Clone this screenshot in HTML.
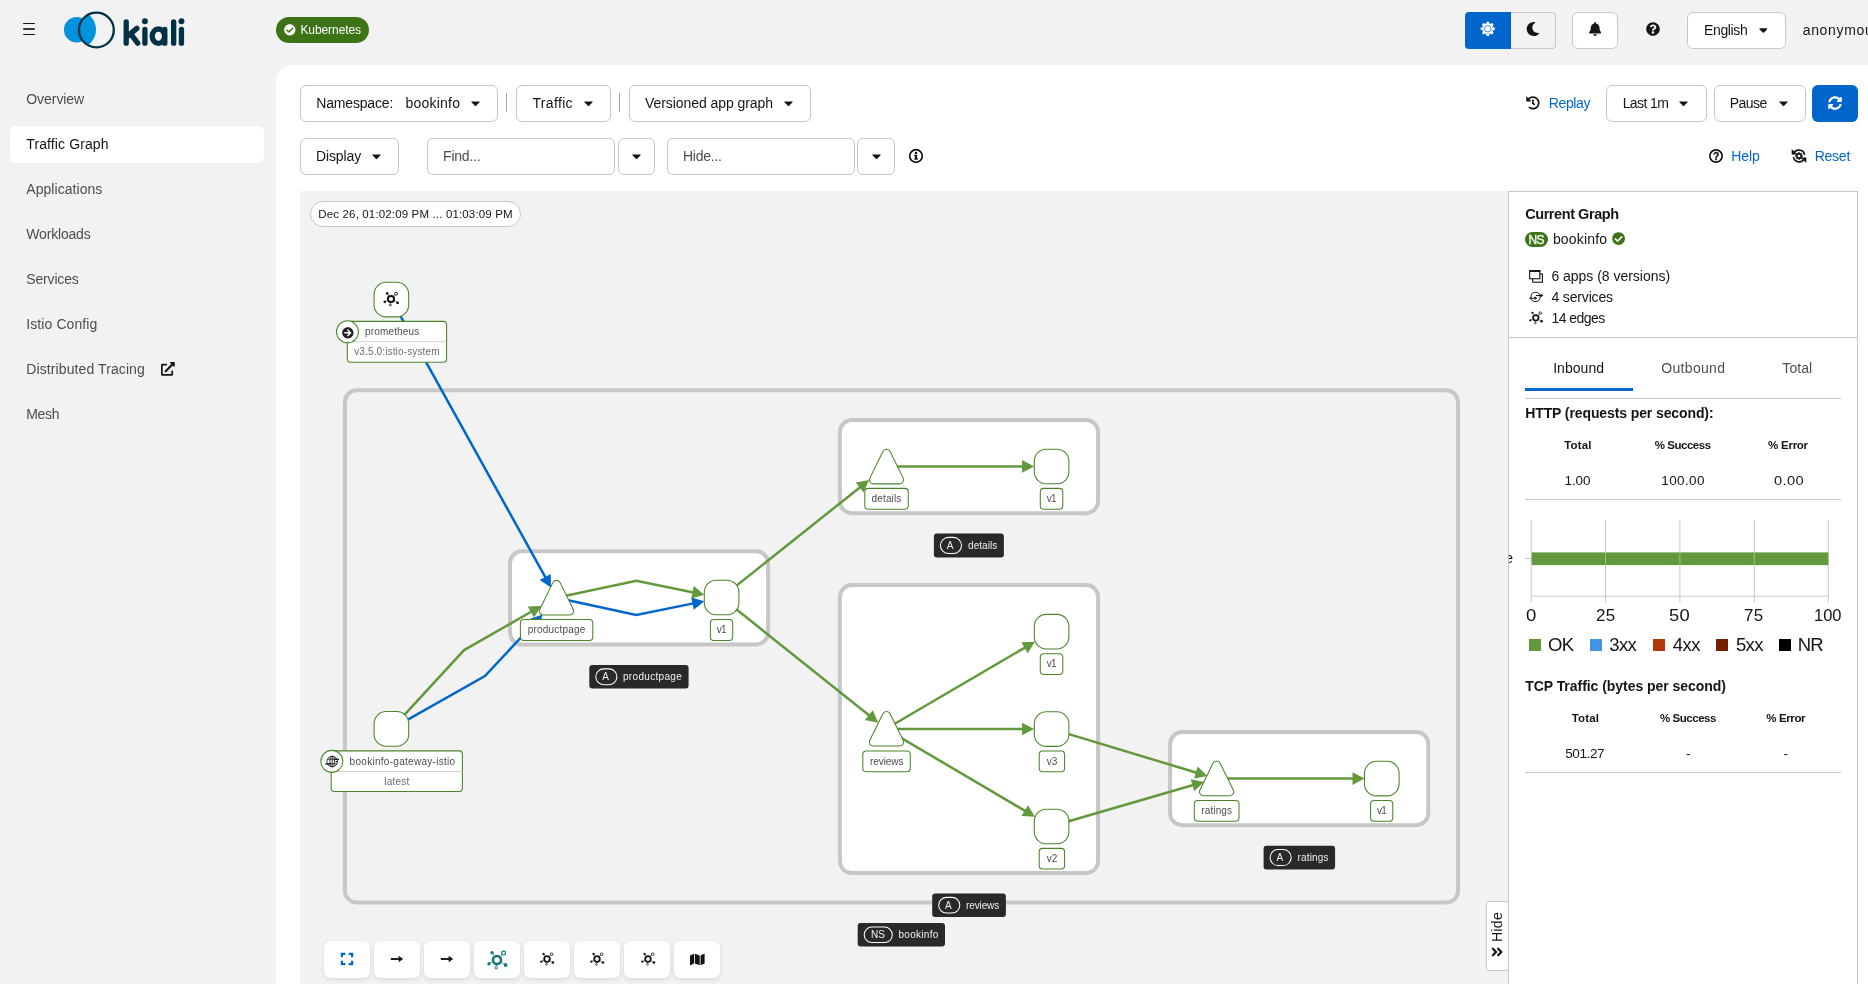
<!DOCTYPE html>
<html><head><meta charset="utf-8"><title>Kiali</title>
<style>
html,body{margin:0;padding:0;}
body{width:1868px;height:984px;overflow:hidden;background:#f2f2f2;position:relative;font-family:"Liberation Sans",sans-serif;}
.t{position:absolute;white-space:pre;line-height:1;}
.b{position:absolute;box-sizing:border-box;display:block;}
.btn{background:#fff;border:1px solid #c7c7c7;border-radius:6px;}
#root{position:absolute;left:0;top:0;width:1868px;height:984px;overflow:hidden;will-change:transform;}
</style></head><body><div id="root">
<div class="b" style="left:22.60px;top:22.80px;width:12.70px;height:1.30px;background:#151515;border-radius:1px;"></div>
<div class="b" style="left:22.60px;top:28.20px;width:12.70px;height:1.70px;background:#3a3a3a;border-radius:1px;"></div>
<div class="b" style="left:22.60px;top:33.90px;width:12.70px;height:1.30px;background:#151515;border-radius:1px;"></div>
<svg class="b" style="left:60px;top:8px" width="130" height="44" viewBox="60 8 130 44"><defs><clipPath id="rc"><circle cx="96.4" cy="30" r="17.4"/></clipPath></defs><circle cx="76.7" cy="29.7" r="12.8" fill="#0093dd"/><circle cx="76.7" cy="29.7" r="19.3" fill="#0093dd" clip-path="url(#rc)"/><circle cx="96.4" cy="30" r="17.4" fill="none" stroke="#013144" stroke-width="2.3"/><g fill="none" stroke="#013144" stroke-width="5.3" stroke-linecap="round" stroke-linejoin="round"><path d="M126.2 21.8V43.2"/><path d="M136.9 28.4L128.2 35.6"/><path d="M130.9 34.2L137.7 43.2"/><path d="M144.9 29.3V43.2"/><path d="M181.45 29.3V43.2"/><path d="M173.65 21.8V43.2"/><ellipse cx="158.4" cy="36.2" rx="6.2" ry="7.2"/><path d="M164.8 29.3V43.2"/></g><circle cx="144.9" cy="21.2" r="2.95" fill="#013144"/><circle cx="181.45" cy="21.2" r="2.95" fill="#013144"/></svg>
<div class="b" style="left:275.90px;top:17.00px;width:93.20px;height:25.80px;background:#3d7317;border-radius:13px;"></div>
<svg class="b" style="left:284.30px;top:24.10px;" width="11.60" height="11.60" viewBox="0 0 512 512"><path fill="#fff" d="M504 256c0 136.967-111.033 248-248 248S8 392.967 8 256 119.033 8 256 8s248 111.033 248 248zM227.314 387.314l184-184c6.248-6.248 6.248-16.379 0-22.627l-22.627-22.627c-6.248-6.249-16.379-6.249-22.628 0L216 308.118l-70.059-70.059c-6.248-6.248-16.379-6.248-22.628 0l-22.627 22.627c-6.248 6.248-6.248 16.379 0 22.627l104 104c6.249 6.249 16.379 6.249 22.628.001z"/></svg>
<span class="t" style="left:300.40px;top:23px;line-height:14px;font-size:12px;color:#fff;letter-spacing:-0.075px;">Kubernetes</span>
<div class="b" style="left:1465.00px;top:12.00px;width:46.00px;height:37.00px;background:#0066cc;border-radius:4px 0 0 4px;"></div>
<div class="b" style="left:1511.00px;top:12.00px;width:44.80px;height:37.00px;background:#f2f2f2;border:1px solid #c7c7c7;border-left:none;border-radius:0 4px 4px 0;"></div>
<svg class="b" style="left:1480.0px;top:21.1px" width="15.6" height="15.6" viewBox="-10 -10 20 20"><g fill="#fff"><polygon points="-2.6,-5.6 2.6,-5.6 1.35,-9.1 -1.35,-9.1" transform="rotate(0)"/><polygon points="-2.6,-5.6 2.6,-5.6 1.35,-9.1 -1.35,-9.1" transform="rotate(45)"/><polygon points="-2.6,-5.6 2.6,-5.6 1.35,-9.1 -1.35,-9.1" transform="rotate(90)"/><polygon points="-2.6,-5.6 2.6,-5.6 1.35,-9.1 -1.35,-9.1" transform="rotate(135)"/><polygon points="-2.6,-5.6 2.6,-5.6 1.35,-9.1 -1.35,-9.1" transform="rotate(180)"/><polygon points="-2.6,-5.6 2.6,-5.6 1.35,-9.1 -1.35,-9.1" transform="rotate(225)"/><polygon points="-2.6,-5.6 2.6,-5.6 1.35,-9.1 -1.35,-9.1" transform="rotate(270)"/><polygon points="-2.6,-5.6 2.6,-5.6 1.35,-9.1 -1.35,-9.1" transform="rotate(315)"/><circle r="6.1"/></g><circle r="4.15" fill="none" stroke="#0066cc" stroke-width="0.95"/></svg>
<svg class="b" style="left:1526.30px;top:22.00px;" width="14.00" height="14.00" viewBox="0 0 512 512"><path fill="#151515" d="M283.211 512c78.962 0 151.079-35.925 198.857-94.792 7.068-8.708-.639-21.43-11.562-19.35-124.203 23.654-238.262-71.576-238.262-196.954 0-72.222 38.662-138.635 101.498-174.394 9.686-5.512 7.25-20.197-3.756-22.23A258.156 258.156 0 0 0 283.211 0c-141.309 0-256 114.511-256 256 0 141.309 114.511 256 256 256z"/></svg>
<div class="b" style="left:1572.20px;top:12.00px;width:45.50px;height:37.00px;background:#fff;border:1px solid #c7c7c7;border-radius:6px;"></div>
<svg class="b" style="left:1588.78px;top:22.00px;" width="12.25" height="14.00" viewBox="0 0 448 512"><path fill="#151515" d="M224 512c35.32 0 63.97-28.65 63.97-64H160.03c0 35.35 28.65 64 63.97 64zm215.39-149.71c-19.32-20.76-55.47-51.99-55.47-154.29 0-77.7-54.48-139.9-127.94-155.16V32c0-17.67-14.32-32-31.98-32s-31.98 14.33-31.98 32v20.84C118.56 68.1 64.08 130.3 64.08 208c0 102.3-36.15 133.53-55.47 154.29-6 6.45-8.66 14.16-8.61 21.71.11 16.4 12.98 32 32.1 32h383.8c19.12 0 32-15.6 32.1-32 .05-7.55-2.61-15.27-8.61-21.71z"/></svg>
<svg class="b" style="left:1645.90px;top:22.00px;" width="14.00" height="14.00" viewBox="0 0 512 512"><path fill="#151515" d="M504 256c0 136.997-111.043 248-248 248S8 392.997 8 256C8 119.083 119.043 8 256 8s248 111.083 248 248zM262.655 90c-54.497 0-89.255 22.957-116.549 63.758-3.536 5.286-2.353 12.415 2.715 16.258l34.699 26.31c5.205 3.947 12.621 3.008 16.665-2.122 17.864-22.658 30.113-35.797 57.303-35.797 20.429 0 45.698 13.148 45.698 32.958 0 14.976-12.363 22.667-32.534 33.976C247.128 238.528 216 254.941 216 296v4c0 6.627 5.373 12 12 12h56c6.627 0 12-5.373 12-12v-1.333c0-28.462 83.186-29.647 83.186-106.667 0-58.002-60.165-102-116.531-102zM256 338c-25.365 0-46 20.635-46 46 0 25.364 20.635 46 46 46s46-20.636 46-46c0-25.365-20.635-46-46-46z"/></svg>
<div class="b" style="left:1687.30px;top:12.00px;width:98.30px;height:37.00px;background:#fff;border:1px solid #c7c7c7;border-radius:6px;"></div>
<span class="t" style="left:1704.10px;top:22px;line-height:16px;font-size:14px;color:#151515;letter-spacing:-0.386px;">English</span>
<svg class="b" style="left:1758.72px;top:22.60px;" width="8.75" height="14.00" viewBox="0 0 320 512"><path fill="#151515" d="M31.3 192h257.3c17.8 0 26.7 21.5 14.1 34.1L174.1 354.8c-7.8 7.8-20.5 7.8-28.3 0L17.2 226.1C4.6 213.5 13.5 192 31.3 192z"/></svg>
<span class="t" style="left:1802.70px;top:22px;line-height:16px;font-size:14px;color:#151515;letter-spacing:0.677px;">anonymous</span>
<div class="b" style="left:9.70px;top:126.00px;width:254.40px;height:36.70px;background:#fff;border-radius:6px;"></div>
<span class="t" style="left:26.30px;top:91px;line-height:16px;font-size:14px;color:#4d4d4d;letter-spacing:-0.064px;">Overview</span>
<span class="t" style="left:26.30px;top:136px;line-height:16px;font-size:14px;color:#151515;letter-spacing:0.107px;">Traffic Graph</span>
<span class="t" style="left:26.30px;top:181px;line-height:16px;font-size:14px;color:#4d4d4d;letter-spacing:0.046px;">Applications</span>
<span class="t" style="left:26.30px;top:226px;line-height:16px;font-size:14px;color:#4d4d4d;letter-spacing:-0.185px;">Workloads</span>
<span class="t" style="left:26.30px;top:271px;line-height:16px;font-size:14px;color:#4d4d4d;letter-spacing:-0.169px;">Services</span>
<span class="t" style="left:26.30px;top:316px;line-height:16px;font-size:14px;color:#4d4d4d;letter-spacing:0.088px;">Istio Config</span>
<span class="t" style="left:26.30px;top:361px;line-height:16px;font-size:14px;color:#4d4d4d;letter-spacing:0.099px;">Distributed Tracing</span>
<span class="t" style="left:26.30px;top:406px;line-height:16px;font-size:14px;color:#4d4d4d;letter-spacing:-0.345px;">Mesh</span>
<svg class="b" style="left:161.10px;top:362.30px;" width="13.80" height="13.80" viewBox="0 0 512 512"><path fill="#151515" d="M432,320H400a16,16,0,0,0-16,16V448H64V128H208a16,16,0,0,0,16-16V80a16,16,0,0,0-16-16H48A48,48,0,0,0,0,112V464a48,48,0,0,0,48,48H400a48,48,0,0,0,48-48V336A16,16,0,0,0,432,320ZM488,0h-128c-21.37,0-32.05,25.91-17,41l35.73,35.73L135,320.37a24,24,0,0,0,0,34L157.67,377a24,24,0,0,0,34,0L435.28,133.32,471,169c15,15,41,4.5,41-17V24A24,24,0,0,0,488,0Z"/></svg>
<div class="b" style="left:275.80px;top:64.70px;width:1624.20px;height:935.30px;background:#fff;border-radius:16px 0 0 0;"></div>
<div class="b" style="left:300.20px;top:85.10px;width:197.40px;height:36.50px;background:#fff;border:1px solid #c7c7c7;border-radius:6px;"></div>
<span class="t" style="left:316.30px;top:95px;line-height:16px;font-size:14px;color:#151515;letter-spacing:-0.177px;">Namespace:</span>
<span class="t" style="left:405.60px;top:95px;line-height:16px;font-size:14px;color:#151515;letter-spacing:0.210px;">bookinfo</span>
<svg class="b" style="left:470.50px;top:95.95px;" width="9.00" height="14.40" viewBox="0 0 320 512"><path fill="#151515" d="M31.3 192h257.3c17.8 0 26.7 21.5 14.1 34.1L174.1 354.8c-7.8 7.8-20.5 7.8-28.3 0L17.2 226.1C4.6 213.5 13.5 192 31.3 192z"/></svg>
<div class="b" style="left:506.20px;top:93.20px;width:1.00px;height:19.10px;background:#a3a3a3;"></div>
<div class="b" style="left:516.10px;top:85.10px;width:94.60px;height:36.50px;background:#fff;border:1px solid #c7c7c7;border-radius:6px;"></div>
<span class="t" style="left:532.50px;top:95px;line-height:16px;font-size:14px;color:#151515;letter-spacing:0.330px;">Traffic</span>
<svg class="b" style="left:583.70px;top:95.95px;" width="9.00" height="14.40" viewBox="0 0 320 512"><path fill="#151515" d="M31.3 192h257.3c17.8 0 26.7 21.5 14.1 34.1L174.1 354.8c-7.8 7.8-20.5 7.8-28.3 0L17.2 226.1C4.6 213.5 13.5 192 31.3 192z"/></svg>
<div class="b" style="left:619.10px;top:93.20px;width:1.00px;height:19.10px;background:#a3a3a3;"></div>
<div class="b" style="left:629.20px;top:85.10px;width:181.40px;height:36.50px;background:#fff;border:1px solid #c7c7c7;border-radius:6px;"></div>
<span class="t" style="left:644.90px;top:95px;line-height:16px;font-size:14px;color:#151515;letter-spacing:-0.057px;">Versioned app graph</span>
<svg class="b" style="left:783.50px;top:95.95px;" width="9.00" height="14.40" viewBox="0 0 320 512"><path fill="#151515" d="M31.3 192h257.3c17.8 0 26.7 21.5 14.1 34.1L174.1 354.8c-7.8 7.8-20.5 7.8-28.3 0L17.2 226.1C4.6 213.5 13.5 192 31.3 192z"/></svg>
<div class="b" style="left:300.10px;top:138.10px;width:98.70px;height:36.60px;background:#fff;border:1px solid #c7c7c7;border-radius:6px;"></div>
<span class="t" style="left:316.00px;top:148px;line-height:16px;font-size:14px;color:#151515;letter-spacing:-0.117px;">Display</span>
<svg class="b" style="left:371.80px;top:149.00px;" width="9.00" height="14.40" viewBox="0 0 320 512"><path fill="#151515" d="M31.3 192h257.3c17.8 0 26.7 21.5 14.1 34.1L174.1 354.8c-7.8 7.8-20.5 7.8-28.3 0L17.2 226.1C4.6 213.5 13.5 192 31.3 192z"/></svg>
<div class="b" style="left:427.00px;top:138.10px;width:187.50px;height:36.60px;background:#fff;border:1px solid #c7c7c7;border-radius:6px;"></div>
<span class="t" style="left:443.10px;top:148px;line-height:16px;font-size:14px;color:#4d4d4d;letter-spacing:-0.234px;">Find...</span>
<div class="b" style="left:617.50px;top:138.10px;width:37.10px;height:36.60px;background:#fff;border:1px solid #c7c7c7;border-radius:6px;"></div>
<svg class="b" style="left:631.50px;top:149.00px;" width="9.00" height="14.40" viewBox="0 0 320 512"><path fill="#151515" d="M31.3 192h257.3c17.8 0 26.7 21.5 14.1 34.1L174.1 354.8c-7.8 7.8-20.5 7.8-28.3 0L17.2 226.1C4.6 213.5 13.5 192 31.3 192z"/></svg>
<div class="b" style="left:667.00px;top:138.10px;width:187.80px;height:36.60px;background:#fff;border:1px solid #c7c7c7;border-radius:6px;"></div>
<span class="t" style="left:683.00px;top:148px;line-height:16px;font-size:14px;color:#4d4d4d;letter-spacing:-0.244px;">Hide...</span>
<div class="b" style="left:857.40px;top:138.10px;width:37.50px;height:36.60px;background:#fff;border:1px solid #c7c7c7;border-radius:6px;"></div>
<svg class="b" style="left:871.50px;top:149.00px;" width="9.00" height="14.40" viewBox="0 0 320 512"><path fill="#151515" d="M31.3 192h257.3c17.8 0 26.7 21.5 14.1 34.1L174.1 354.8c-7.8 7.8-20.5 7.8-28.3 0L17.2 226.1C4.6 213.5 13.5 192 31.3 192z"/></svg>
<svg class="b" style="left:908px;top:148.3px" width="16" height="16" viewBox="0 0 16 16"><circle cx="8" cy="8" r="6.3" fill="none" stroke="#151515" stroke-width="1.7"/><rect x="7" y="6.9" width="2.1" height="4.3" fill="#151515"/><rect x="6.1" y="6.9" width="2" height="1.2" fill="#151515"/><rect x="6.1" y="10.4" width="3.9" height="1.2" fill="#151515"/><circle cx="8" cy="4.9" r="1.25" fill="#151515"/></svg>
<svg class="b" style="left:1526.00px;top:96.30px;" width="13.80" height="13.80" viewBox="0 0 512 512"><path fill="#151515" d="M504 255.531c.253 136.64-111.18 248.372-247.82 248.468-59.015.042-113.223-20.53-155.822-54.911-11.077-8.94-11.905-25.541-1.839-35.607l11.267-11.267c8.609-8.609 22.353-9.551 31.891-1.984C173.062 425.135 212.781 440 256 440c101.705 0 184-82.311 184-184 0-101.705-82.311-184-184-184-48.814 0-93.149 18.969-126.068 49.932l50.754 50.754c10.08 10.08 2.941 27.314-11.313 27.314H24c-8.837 0-16-7.163-16-16V38.627c0-14.254 17.234-21.393 27.314-11.314l49.372 49.372C129.209 34.136 189.552 8 256 8c136.81 0 247.747 110.78 248 247.531zm-180.912 78.784l9.823-12.63c8.138-10.463 6.253-25.542-4.21-33.679L288 256.349V152c0-13.255-10.745-24-24-24h-16c-13.255 0-24 10.745-24 24v135.651l65.409 50.874c10.463 8.137 25.541 6.253 33.679-4.21z"/></svg>
<span class="t" style="left:1548.80px;top:95px;line-height:16px;font-size:14px;color:#0066cc;letter-spacing:-0.396px;">Replay</span>
<div class="b" style="left:1606.20px;top:85.10px;width:100.50px;height:36.50px;background:#fff;border:1px solid #c7c7c7;border-radius:6px;"></div>
<span class="t" style="left:1622.70px;top:95px;line-height:16px;font-size:14px;color:#151515;letter-spacing:-0.600px;">Last 1m</span>
<svg class="b" style="left:1679.30px;top:95.95px;" width="9.00" height="14.40" viewBox="0 0 320 512"><path fill="#151515" d="M31.3 192h257.3c17.8 0 26.7 21.5 14.1 34.1L174.1 354.8c-7.8 7.8-20.5 7.8-28.3 0L17.2 226.1C4.6 213.5 13.5 192 31.3 192z"/></svg>
<div class="b" style="left:1714.20px;top:85.10px;width:91.50px;height:36.50px;background:#fff;border:1px solid #c7c7c7;border-radius:6px;"></div>
<span class="t" style="left:1729.70px;top:95px;line-height:16px;font-size:14px;color:#151515;letter-spacing:-0.524px;">Pause</span>
<svg class="b" style="left:1778.50px;top:95.95px;" width="9.00" height="14.40" viewBox="0 0 320 512"><path fill="#151515" d="M31.3 192h257.3c17.8 0 26.7 21.5 14.1 34.1L174.1 354.8c-7.8 7.8-20.5 7.8-28.3 0L17.2 226.1C4.6 213.5 13.5 192 31.3 192z"/></svg>
<div class="b" style="left:1812.20px;top:85.10px;width:45.80px;height:36.70px;background:#0066cc;border-radius:6px;"></div>
<svg class="b" style="left:1828.10px;top:96.40px;" width="14.00" height="14.00" viewBox="0 0 512 512"><path fill="#fff" d="M370.72 133.28C339.458 104.008 298.888 87.962 255.848 88c-77.458.068-144.328 53.178-162.791 126.85-1.344 5.363-6.122 9.15-11.651 9.15H24.103c-7.498 0-13.194-6.807-11.807-14.176C33.933 94.924 134.813 8 256 8c66.448 0 126.791 26.136 171.315 68.685L463.03 40.97C478.149 25.851 504 36.559 504 57.941V192c0 13.255-10.745 24-24 24H345.941c-21.382 0-32.09-25.851-16.971-40.971l41.75-41.749zM32 296h134.059c21.382 0 32.09 25.851 16.971 40.971l-41.75 41.75c31.262 29.273 71.835 45.319 114.876 45.28 77.418-.07 144.315-53.144 162.787-126.849 1.344-5.363 6.122-9.15 11.651-9.15h57.304c7.498 0 13.194 6.807 11.807 14.176C478.067 417.076 377.187 504 256 504c-66.448 0-126.791-26.136-171.315-68.685L48.97 471.03C33.851 486.149 8 475.441 8 454.059V320c0-13.255 10.745-24 24-24z"/></svg>
<svg class="b" style="left:1708px;top:148px" width="16" height="16" viewBox="0 0 16 16"><circle cx="8" cy="8" r="6.15" fill="none" stroke="#151515" stroke-width="1.7"/></svg>
<span class="t" style="left:1713.30px;top:151px;line-height:11px;font-size:10px;color:#151515;letter-spacing:0.000px;font-weight:bold;-webkit-text-stroke:0.35px #151515;">?</span>
<span class="t" style="left:1731.20px;top:148px;line-height:16px;font-size:14px;color:#0066cc;letter-spacing:-0.065px;">Help</span>
<svg class="b" style="left:1791px;top:147.9px" width="16" height="16" viewBox="-8 -8 16 16"><g fill="none" stroke="#151515" stroke-width="1.7"><path d="M-5.4 -2.0A5.7 5.7 0 0 1 5.6 -1.2"/><path d="M5.4 2.0A5.7 5.7 0 0 1 -5.6 1.2"/></g><g fill="#151515"><path d="M-7.3 -7.0V-1.5H-1.8Z"/><path d="M7.3 7.0V1.5H1.8Z"/><rect x="-0.75" y="-3.9" width="1.5" height="1.6" transform="rotate(0)"/><rect x="-0.75" y="-3.9" width="1.5" height="1.6" transform="rotate(45)"/><rect x="-0.75" y="-3.9" width="1.5" height="1.6" transform="rotate(90)"/><rect x="-0.75" y="-3.9" width="1.5" height="1.6" transform="rotate(135)"/><rect x="-0.75" y="-3.9" width="1.5" height="1.6" transform="rotate(180)"/><rect x="-0.75" y="-3.9" width="1.5" height="1.6" transform="rotate(225)"/><rect x="-0.75" y="-3.9" width="1.5" height="1.6" transform="rotate(270)"/><rect x="-0.75" y="-3.9" width="1.5" height="1.6" transform="rotate(315)"/><circle r="2.9"/></g><circle r="1.35" fill="#fff"/></svg>
<span class="t" style="left:1814.70px;top:148px;line-height:16px;font-size:14px;color:#0066cc;letter-spacing:-0.243px;">Reset</span>
<div class="b" style="left:300.10px;top:190.90px;width:1208.20px;height:793.10px;background:#f2f2f2;"></div>
<div class="b" style="left:310.10px;top:201.10px;width:210.70px;height:25.70px;background:#fff;border:1px solid #c7c7c7;border-radius:13px;"></div>
<span class="t" style="left:318.30px;top:208px;line-height:12px;font-size:11.5px;color:#151515;letter-spacing:0.149px;">Dec 26, 01:02:09 PM ... 01:03:09 PM</span>
<svg class="b" style="left:300.1px;top:190.9px" width="1208.2" height="793.1" viewBox="300.1 190.9 1208.2 793.1"><rect x="345.00" y="390.10" width="1113.20" height="512.40" rx="12.00" fill="#f2f2f2" stroke="#c7c7c7" stroke-width="4.0"/><rect x="510.10" y="551.10" width="258.10" height="93.30" rx="12.00" fill="#fff" stroke="#c7c7c7" stroke-width="4.0"/><rect x="840.00" y="420.00" width="258.20" height="93.10" rx="12.00" fill="#fff" stroke="#c7c7c7" stroke-width="4.0"/><rect x="840.00" y="585.00" width="258.20" height="288.00" rx="12.00" fill="#fff" stroke="#c7c7c7" stroke-width="4.0"/><rect x="1170.20" y="732.00" width="258.20" height="93.10" rx="12.00" fill="#fff" stroke="#c7c7c7" stroke-width="4.0"/><polyline fill="none" stroke="#0066cc" stroke-width="2.5" stroke-linejoin="miter" points="391.5,299.5 545.8,577.8"/><polygon fill="#0066cc" points="551.1,587.4 539.8,580.0 550.8,573.9"/><polyline fill="none" stroke="#0066cc" stroke-width="2.5" stroke-linejoin="miter" points="391.6,728.8 485.0,676.0 535.1,622.4"/><polygon fill="#0066cc" points="542.6,614.4 539.0,627.5 529.8,618.9"/><polyline fill="none" stroke="#63993d" stroke-width="2.5" stroke-linejoin="miter" points="391.6,728.8 464.2,650.0 531.8,611.4"/><polygon fill="#63993d" points="541.4,606.0 534.1,617.4 527.9,606.5"/><polyline fill="none" stroke="#0066cc" stroke-width="2.5" stroke-linejoin="miter" points="556.6,597.6 636.4,614.8 693.6,603.3"/><polygon fill="#0066cc" points="704.4,601.1 693.9,609.6 691.4,597.3"/><polyline fill="none" stroke="#63993d" stroke-width="2.5" stroke-linejoin="miter" points="556.6,597.6 636.4,580.6 693.6,592.4"/><polygon fill="#63993d" points="704.4,594.6 691.4,598.4 693.9,586.0"/><polyline fill="none" stroke="#63993d" stroke-width="2.5" stroke-linejoin="miter" points="721.7,597.4 860.6,486.8"/><polygon fill="#63993d" points="869.2,479.9 863.7,492.3 855.9,482.4"/><polyline fill="none" stroke="#63993d" stroke-width="2.5" stroke-linejoin="miter" points="721.7,597.4 869.7,715.7"/><polygon fill="#63993d" points="878.3,722.6 865.0,720.0 872.9,710.2"/><polyline fill="none" stroke="#63993d" stroke-width="2.5" stroke-linejoin="miter" points="890.0,466.3 1023.2,466.3"/><polygon fill="#63993d" points="1034.2,466.3 1022.2,472.6 1022.2,460.0"/><polyline fill="none" stroke="#63993d" stroke-width="2.5" stroke-linejoin="miter" points="888.0,727.7 1025.5,647.2"/><polygon fill="#63993d" points="1035.0,641.6 1027.8,653.1 1021.5,642.2"/><polyline fill="none" stroke="#63993d" stroke-width="2.5" stroke-linejoin="miter" points="890.0,728.9 1023.2,728.9"/><polygon fill="#63993d" points="1034.2,728.9 1022.2,735.2 1022.2,722.6"/><polyline fill="none" stroke="#63993d" stroke-width="2.5" stroke-linejoin="miter" points="888.0,730.0 1025.6,811.0"/><polygon fill="#63993d" points="1035.1,816.6 1021.6,815.9 1028.0,805.1"/><polyline fill="none" stroke="#63993d" stroke-width="2.5" stroke-linejoin="miter" points="1055.0,729.8 1197.0,772.7"/><polygon fill="#63993d" points="1207.5,775.9 1194.2,778.5 1197.8,766.4"/><polyline fill="none" stroke="#63993d" stroke-width="2.5" stroke-linejoin="miter" points="1055.0,825.1 1193.5,784.9"/><polygon fill="#63993d" points="1204.1,781.8 1194.3,791.2 1190.8,779.1"/><polyline fill="none" stroke="#63993d" stroke-width="2.5" stroke-linejoin="miter" points="1220.0,778.5 1353.6,778.5"/><polygon fill="#63993d" points="1364.6,778.5 1352.6,784.8 1352.6,772.2"/><rect x="374.20" y="282.20" width="34.6" height="34.6" rx="12" fill="#fff" stroke="#4a8429" stroke-width="1.05"/><rect x="374.20" y="711.50" width="34.6" height="34.6" rx="12" fill="#fff" stroke="#4a8429" stroke-width="1.05"/><path d="M553.01 582.53A4.0 4.0 0 0 1 560.19 582.53L573.28 609.13A4.0 4.0 0 0 1 569.69 614.90L543.51 614.90A4.0 4.0 0 0 1 539.92 609.13Z" fill="#fff" stroke="#4a8429" stroke-width="1.05"/><rect x="704.40" y="580.10" width="34.6" height="34.6" rx="12" fill="#fff" stroke="#4a8429" stroke-width="1.05"/><path d="M883.01 451.43A4.0 4.0 0 0 1 890.19 451.43L903.28 478.03A4.0 4.0 0 0 1 899.69 483.80L873.51 483.80A4.0 4.0 0 0 1 869.92 478.03Z" fill="#fff" stroke="#4a8429" stroke-width="1.05"/><rect x="1034.40" y="449.10" width="34.6" height="34.6" rx="12" fill="#fff" stroke="#4a8429" stroke-width="1.05"/><path d="M883.01 713.63A4.0 4.0 0 0 1 890.19 713.63L903.28 740.23A4.0 4.0 0 0 1 899.69 746.00L873.51 746.00A4.0 4.0 0 0 1 869.92 740.23Z" fill="#fff" stroke="#4a8429" stroke-width="1.05"/><rect x="1034.40" y="614.30" width="34.6" height="34.6" rx="12" fill="#fff" stroke="#4a8429" stroke-width="1.05"/><rect x="1034.40" y="711.70" width="34.6" height="34.6" rx="12" fill="#fff" stroke="#4a8429" stroke-width="1.05"/><rect x="1034.40" y="809.10" width="34.6" height="34.6" rx="12" fill="#fff" stroke="#4a8429" stroke-width="1.05"/><path d="M1213.11 763.23A4.0 4.0 0 0 1 1220.29 763.23L1233.38 789.83A4.0 4.0 0 0 1 1229.79 795.60L1203.61 795.60A4.0 4.0 0 0 1 1200.02 789.83Z" fill="#fff" stroke="#4a8429" stroke-width="1.05"/><rect x="1364.60" y="761.20" width="34.6" height="34.6" rx="12" fill="#fff" stroke="#4a8429" stroke-width="1.05"/><rect x="347.40" y="321.30" width="99.30" height="40.90" rx="3.5" fill="#fff" stroke="#4a8429" stroke-width="1.05"/><line x1="347.90" x2="446.20" y1="341.6" y2="341.6" stroke="#d2d2d2" stroke-width="1"/><rect x="331.30" y="750.80" width="131.20" height="40.70" rx="3.5" fill="#fff" stroke="#4a8429" stroke-width="1.05"/><line x1="331.80" x2="462.00" y1="771.4" y2="771.4" stroke="#d2d2d2" stroke-width="1"/><rect x="520.50" y="619.50" width="72.40" height="21.00" rx="3.5" fill="#fff" stroke="#4a8429" stroke-width="1.05"/><rect x="710.50" y="619.50" width="22.30" height="21.00" rx="3.5" fill="#fff" stroke="#4a8429" stroke-width="1.05"/><rect x="864.90" y="488.30" width="43.50" height="20.80" rx="3.5" fill="#fff" stroke="#4a8429" stroke-width="1.05"/><rect x="1040.40" y="488.30" width="22.50" height="20.80" rx="3.5" fill="#fff" stroke="#4a8429" stroke-width="1.05"/><rect x="862.90" y="751.00" width="47.50" height="20.70" rx="3.5" fill="#fff" stroke="#4a8429" stroke-width="1.05"/><rect x="1040.40" y="653.70" width="22.50" height="20.70" rx="3.5" fill="#fff" stroke="#4a8429" stroke-width="1.05"/><rect x="1039.30" y="751.00" width="25.40" height="20.70" rx="3.5" fill="#fff" stroke="#4a8429" stroke-width="1.05"/><rect x="1039.30" y="848.30" width="25.40" height="20.70" rx="3.5" fill="#fff" stroke="#4a8429" stroke-width="1.05"/><rect x="1194.40" y="800.50" width="44.70" height="20.60" rx="3.5" fill="#fff" stroke="#4a8429" stroke-width="1.05"/><rect x="1370.70" y="800.50" width="22.20" height="20.60" rx="3.5" fill="#fff" stroke="#4a8429" stroke-width="1.05"/><circle cx="347.6" cy="331.7" r="11" fill="#fff" stroke="#4a8429" stroke-width="1.05"/><circle cx="331.9" cy="761.3" r="11" fill="#fff" stroke="#4a8429" stroke-width="1.05"/><rect x="589.40" y="664.90" width="99.30" height="23.60" rx="3" fill="#292929"/><rect x="595.90" y="668.80" width="21.1" height="15.80" rx="7.90" fill="none" stroke="#fff" stroke-width="1.05"/><rect x="934.00" y="533.40" width="70.00" height="23.90" rx="3" fill="#292929"/><rect x="940.50" y="537.30" width="21.1" height="16.10" rx="8.05" fill="none" stroke="#fff" stroke-width="1.05"/><rect x="932.30" y="893.40" width="73.70" height="23.50" rx="3" fill="#292929"/><rect x="938.80" y="897.30" width="21.1" height="15.70" rx="7.85" fill="none" stroke="#fff" stroke-width="1.05"/><rect x="1263.70" y="845.60" width="71.50" height="23.80" rx="3" fill="#292929"/><rect x="1270.20" y="849.50" width="21.1" height="16.00" rx="8.00" fill="none" stroke="#fff" stroke-width="1.05"/><rect x="857.80" y="923.00" width="87.30" height="23.40" rx="3" fill="#292929"/><rect x="864.30" y="926.90" width="28.1" height="15.60" rx="7.80" fill="none" stroke="#fff" stroke-width="1.05"/></svg>
<svg class="b" style="left:342.45px;top:326.85px;" width="11.70" height="11.70" viewBox="0 0 512 512"><path fill="#1f1f1f" d="M256 8c137 0 248 111 248 248S393 504 256 504 8 393 8 256 119 8 256 8zm-28.9 143.6l75.5 72.4H120c-13.3 0-24 10.7-24 24v16c0 13.3 10.7 24 24 24h182.6l-75.5 72.4c-9.7 9.3-9.9 24.8-.4 34.3l11 10.9c9.4 9.4 24.6 9.4 33.9 0L404.3 273c9.4-9.4 9.4-24.6 0-33.9L271.6 106.3c-9.4-9.4-24.6-9.4-33.9 0l-11 10.9c-9.5 9.6-9.3 25.1.4 34.4z"/></svg>
<svg class="b" style="left:325px;top:754.5px" width="14.5" height="13" viewBox="0 0 14.5 13"><g fill="none" stroke="#1f1f1f" stroke-width="0.9"><circle cx="7.2" cy="6.5" r="5.3"/><ellipse cx="7.2" cy="6.5" rx="2.3" ry="5.3"/><path d="M7.2 1.2V11.8M2.4 4.2H12M2.4 8.8H12"/></g><path d="M0.3 8.9H6" stroke="#1f1f1f" stroke-width="1.3"/><path d="M9 4.3H14" stroke="#1f1f1f" stroke-width="1.4"/><path d="M10.5 6.5H13" stroke="#1f1f1f" stroke-width="1.0"/></svg>
<span class="t" style="left:365.00px;top:326px;line-height:11px;font-size:10px;color:#4d4d4d;letter-spacing:0.166px;">prometheus</span>
<span class="t" style="left:354.20px;top:346px;line-height:11px;font-size:10px;color:#6a6e73;letter-spacing:0.139px;">v3.5.0:istio-system</span>
<span class="t" style="left:349.60px;top:756px;line-height:11px;font-size:10px;color:#4d4d4d;letter-spacing:0.286px;">bookinfo-gateway-istio</span>
<span class="t" style="left:384.30px;top:776px;line-height:11px;font-size:10px;color:#6a6e73;letter-spacing:0.220px;">latest</span>
<span class="t" style="left:527.80px;top:624px;line-height:11px;font-size:10px;color:#4d4d4d;letter-spacing:0.190px;">productpage</span>
<span class="t" style="left:716.77px;top:624px;line-height:11px;font-size:10px;color:#4d4d4d;letter-spacing:-0.700px;">v1</span>
<span class="t" style="left:871.60px;top:493px;line-height:11px;font-size:10px;color:#4d4d4d;letter-spacing:0.132px;">details</span>
<span class="t" style="left:1046.77px;top:493px;line-height:11px;font-size:10px;color:#4d4d4d;letter-spacing:-0.700px;">v1</span>
<span class="t" style="left:870.00px;top:756px;line-height:11px;font-size:10px;color:#4d4d4d;letter-spacing:-0.083px;">reviews</span>
<span class="t" style="left:1046.77px;top:658px;line-height:11px;font-size:10px;color:#4d4d4d;letter-spacing:-0.700px;">v1</span>
<span class="t" style="left:1046.70px;top:756px;line-height:11px;font-size:10px;color:#4d4d4d;letter-spacing:0.038px;">v3</span>
<span class="t" style="left:1046.70px;top:853px;line-height:11px;font-size:10px;color:#4d4d4d;letter-spacing:0.038px;">v2</span>
<span class="t" style="left:1201.30px;top:805px;line-height:11px;font-size:10px;color:#4d4d4d;letter-spacing:0.114px;">ratings</span>
<span class="t" style="left:1376.97px;top:805px;line-height:11px;font-size:10px;color:#4d4d4d;letter-spacing:-0.700px;">v1</span>
<span class="t" style="left:602.20px;top:671px;line-height:11px;font-size:10px;color:#f0f0f0;letter-spacing:0.000px;">A</span>
<span class="t" style="left:623.00px;top:671px;line-height:11px;font-size:10px;color:#f0f0f0;letter-spacing:0.310px;">productpage</span>
<span class="t" style="left:946.80px;top:540px;line-height:11px;font-size:10px;color:#f0f0f0;letter-spacing:0.000px;">A</span>
<span class="t" style="left:968.00px;top:540px;line-height:11px;font-size:10px;color:#f0f0f0;letter-spacing:0.065px;">details</span>
<span class="t" style="left:945.10px;top:900px;line-height:11px;font-size:10px;color:#f0f0f0;letter-spacing:0.000px;">A</span>
<span class="t" style="left:966.00px;top:900px;line-height:11px;font-size:10px;color:#f0f0f0;letter-spacing:-0.116px;">reviews</span>
<span class="t" style="left:1276.50px;top:852px;line-height:11px;font-size:10px;color:#f0f0f0;letter-spacing:0.000px;">A</span>
<span class="t" style="left:1297.60px;top:852px;line-height:11px;font-size:10px;color:#f0f0f0;letter-spacing:0.131px;">ratings</span>
<span class="t" style="left:871.00px;top:929px;line-height:11px;font-size:10px;color:#f0f0f0;letter-spacing:0.000px;">NS</span>
<span class="t" style="left:898.40px;top:929px;line-height:11px;font-size:10px;color:#f0f0f0;letter-spacing:0.313px;">bookinfo</span>
<div class="b" style="left:323.90px;top:940.90px;width:46.00px;height:37.20px;background:#fff;border-radius:6px;box-shadow:0 2px 4px rgba(0,0,0,0.09),0 0 2px rgba(0,0,0,0.07);"></div>
<div class="b" style="left:373.95px;top:940.90px;width:46.00px;height:37.20px;background:#fff;border-radius:6px;box-shadow:0 2px 4px rgba(0,0,0,0.09),0 0 2px rgba(0,0,0,0.07);"></div>
<div class="b" style="left:424.00px;top:940.90px;width:46.00px;height:37.20px;background:#fff;border-radius:6px;box-shadow:0 2px 4px rgba(0,0,0,0.09),0 0 2px rgba(0,0,0,0.07);"></div>
<div class="b" style="left:474.05px;top:940.90px;width:46.00px;height:37.20px;background:#fff;border-radius:6px;box-shadow:0 2px 4px rgba(0,0,0,0.09),0 0 2px rgba(0,0,0,0.07);"></div>
<div class="b" style="left:524.10px;top:940.90px;width:46.00px;height:37.20px;background:#fff;border-radius:6px;box-shadow:0 2px 4px rgba(0,0,0,0.09),0 0 2px rgba(0,0,0,0.07);"></div>
<div class="b" style="left:574.15px;top:940.90px;width:46.00px;height:37.20px;background:#fff;border-radius:6px;box-shadow:0 2px 4px rgba(0,0,0,0.09),0 0 2px rgba(0,0,0,0.07);"></div>
<div class="b" style="left:624.20px;top:940.90px;width:46.00px;height:37.20px;background:#fff;border-radius:6px;box-shadow:0 2px 4px rgba(0,0,0,0.09),0 0 2px rgba(0,0,0,0.07);"></div>
<div class="b" style="left:674.25px;top:940.90px;width:46.00px;height:37.20px;background:#fff;border-radius:6px;box-shadow:0 2px 4px rgba(0,0,0,0.09),0 0 2px rgba(0,0,0,0.07);"></div>
<svg class="b" style="left:340.15px;top:952.15px" width="14" height="14" viewBox="0 0 14 14"><path fill="none" stroke="#0066cc" stroke-width="2.2" d="M1.9 5.3V1.9H5.3M8.7 1.9H12.1V5.3M12.1 8.7V12.1H8.7M5.3 12.1H1.9V8.7"/></svg>
<svg class="b" style="left:390.15000000000003px;top:951.9499999999999px" width="14" height="14" viewBox="0 0 14 14"><path fill="none" stroke="#151515" stroke-width="1.9" d="M0.8 7H11"/><path fill="#151515" d="M8.6 3.7L13.2 7L8.6 10.3Z"/></svg>
<svg class="b" style="left:440.20000000000005px;top:951.9499999999999px" width="14" height="14" viewBox="0 0 14 14"><path fill="none" stroke="#151515" stroke-width="1.9" d="M0.8 7H11"/><path fill="#151515" d="M8.6 3.7L13.2 7L8.6 10.3Z"/></svg>
<svg class="b" style="left:483.70px;top:946.80px" width="26.00" height="26.00" viewBox="-10 -10 20 20"><g stroke="#147878" stroke-width="0.55" fill="none"><path d="M0 0L5.0 -5.2M0 0L-3.7 -5.5M0 0L-6.1 2.8M0 0L6.5 3.8M0 0L-0.6 5.9"/></g><circle r="3.1" fill="#fff" stroke="#147878" stroke-width="2.0"/><circle cx="5.1" cy="-5.3" r="1.45" fill="#fff" stroke="#147878" stroke-width="0.95"/><circle cx="-3.8" cy="-5.6" r="1.3" fill="#147878"/><circle cx="-6.2" cy="2.85" r="1.3" fill="#147878"/><circle cx="6.6" cy="3.85" r="1.45" fill="#147878"/><circle cx="-0.6" cy="6.0" r="1.0" fill="#fff" stroke="#147878" stroke-width="0.75"/></svg>
<svg class="b" style="left:538.40px;top:950.30px" width="18.00" height="18.00" viewBox="-10 -10 20 20"><g stroke="#151515" stroke-width="0.55" fill="none"><path d="M0 0L5.0 -5.2M0 0L-3.7 -5.5M0 0L-6.1 2.8M0 0L6.5 3.8M0 0L-0.6 5.9"/></g><circle r="3.1" fill="#fff" stroke="#151515" stroke-width="2.0"/><circle cx="5.1" cy="-5.3" r="1.45" fill="#fff" stroke="#151515" stroke-width="0.95"/><circle cx="-3.8" cy="-5.6" r="1.3" fill="#151515"/><circle cx="-6.2" cy="2.85" r="1.3" fill="#151515"/><circle cx="6.6" cy="3.85" r="1.45" fill="#151515"/><circle cx="-0.6" cy="6.0" r="1.0" fill="#fff" stroke="#151515" stroke-width="0.75"/></svg>
<svg class="b" style="left:588.45px;top:950.30px" width="18.00" height="18.00" viewBox="-10 -10 20 20"><g stroke="#151515" stroke-width="0.55" fill="none"><path d="M0 0L5.0 -5.2M0 0L-3.7 -5.5M0 0L-6.1 2.8M0 0L6.5 3.8M0 0L-0.6 5.9"/></g><circle r="3.1" fill="#fff" stroke="#151515" stroke-width="2.0"/><circle cx="5.1" cy="-5.3" r="1.45" fill="#fff" stroke="#151515" stroke-width="0.95"/><circle cx="-3.8" cy="-5.6" r="1.3" fill="#151515"/><circle cx="-6.2" cy="2.85" r="1.3" fill="#151515"/><circle cx="6.6" cy="3.85" r="1.45" fill="#151515"/><circle cx="-0.6" cy="6.0" r="1.0" fill="#fff" stroke="#151515" stroke-width="0.75"/></svg>
<svg class="b" style="left:638.50px;top:950.30px" width="18.00" height="18.00" viewBox="-10 -10 20 20"><g stroke="#151515" stroke-width="0.55" fill="none"><path d="M0 0L5.0 -5.2M0 0L-3.7 -5.5M0 0L-6.1 2.8M0 0L6.5 3.8M0 0L-0.6 5.9"/></g><circle r="3.1" fill="#fff" stroke="#151515" stroke-width="2.0"/><circle cx="5.1" cy="-5.3" r="1.45" fill="#fff" stroke="#151515" stroke-width="0.95"/><circle cx="-3.8" cy="-5.6" r="1.3" fill="#151515"/><circle cx="-6.2" cy="2.85" r="1.3" fill="#151515"/><circle cx="6.6" cy="3.85" r="1.45" fill="#151515"/><circle cx="-0.6" cy="6.0" r="1.0" fill="#fff" stroke="#151515" stroke-width="0.75"/></svg>
<svg class="b" style="left:689.94px;top:952.70px;" width="14.62" height="13.00" viewBox="0 0 576 512"><path fill="#151515" d="M0 117.66v346.32c0 11.32 11.43 19.06 21.94 14.86L160 416V32L20.12 87.95A32.006 32.006 0 0 0 0 117.66zM192 416l192 64V96L192 32v384zM554.06 33.16L416 96v384l139.88-55.95A31.996 31.996 0 0 0 576 394.34V48.02c0-11.32-11.43-19.06-21.94-14.86z"/></svg>
<div class="b" style="left:1486.00px;top:901.30px;width:22.60px;height:69.40px;background:#fff;border:1px solid #c7c7c7;border-radius:3px;"></div>
<div class="t" style="left:1497.0px;top:927.0px;width:0;height:0;"><div style="position:absolute;transform:translate(-50%,-50%) rotate(-90deg);white-space:pre;font-size:14px;color:#151515;line-height:16px;letter-spacing:0.35px;">Hide</div></div>
<svg class="b" style="left:1490.72px;top:945.20px;" width="12.25" height="14.00" viewBox="0 0 448 512"><path fill="#151515" d="M224.3 273l-136 136c-9.4 9.4-24.6 9.4-33.9 0l-22.6-22.6c-9.4-9.4-9.4-24.6 0-33.9l96.4-96.4-96.4-96.4c-9.4-9.4-9.4-24.6 0-33.9L54.3 103c9.4-9.4 24.6-9.4 33.9 0l136 136c9.5 9.4 9.5 24.6.1 34zm192-34l-136-136c-9.4-9.4-24.6-9.4-33.9 0l-22.6 22.6c-9.4 9.4-9.4 24.6 0 33.9l96.4 96.4-96.4 96.4c-9.4 9.4-9.4 24.6 0 33.9l22.6 22.6c9.4 9.4 24.6 9.4 33.9 0l136-136c9.4-9.2 9.4-24.4 0-33.8z"/></svg>
<div class="b" style="left:1508.20px;top:191.00px;width:349.80px;height:809.00px;background:#fff;border:1px solid #c7c7c7;"></div>
<div class="b" style="left:1508.20px;top:336.60px;width:349.80px;height:1.00px;background:#c7c7c7;"></div>
<span class="t" style="left:1525.20px;top:206px;line-height:16px;font-size:14.5px;color:#151515;letter-spacing:-0.433px;font-weight:bold;">Current Graph</span>
<div class="b" style="left:1524.90px;top:231.90px;width:23.00px;height:15.00px;background:#3d7317;border-radius:7.5px;"></div>
<span class="t" style="left:1528.51px;top:233px;line-height:14px;font-size:12px;color:#fff;letter-spacing:-0.700px;-webkit-text-stroke:0.3px #fff;">NS</span>
<span class="t" style="left:1552.90px;top:231px;line-height:16px;font-size:14px;color:#151515;letter-spacing:0.181px;">bookinfo</span>
<svg class="b" style="left:1612.10px;top:232.40px;" width="13.20" height="13.20" viewBox="0 0 512 512"><path fill="#3d7317" d="M504 256c0 136.967-111.033 248-248 248S8 392.967 8 256 119.033 8 256 8s248 111.033 248 248zM227.314 387.314l184-184c6.248-6.248 6.248-16.379 0-22.627l-22.627-22.627c-6.248-6.249-16.379-6.249-22.628 0L216 308.118l-70.059-70.059c-6.248-6.248-16.379-6.248-22.628 0l-22.627 22.627c-6.248 6.248-6.248 16.379 0 22.627l104 104c6.249 6.249 16.379 6.249 22.628.001z"/></svg>
<span class="t" style="left:1551.40px;top:268px;line-height:16px;font-size:14px;color:#151515;letter-spacing:-0.020px;">6 apps (8 versions)</span>
<span class="t" style="left:1551.40px;top:289px;line-height:16px;font-size:14px;color:#151515;letter-spacing:-0.147px;">4 services</span>
<span class="t" style="left:1551.40px;top:310px;line-height:16px;font-size:14px;color:#151515;letter-spacing:-0.544px;">14 edges</span>
<svg class="b" style="left:1526px;top:266px" width="20" height="36" viewBox="1526 266 20 36"><rect x="1532.7" y="274.0" width="9.7" height="8.2" fill="none" stroke="#151515" stroke-width="1.1"/><rect x="1529.65" y="270.75" width="10.2" height="8.0" fill="#fff" stroke="#151515" stroke-width="1.1"/><rect x="1529.1" y="270.2" width="11.3" height="1.8" fill="#151515"/><circle cx="1535.5" cy="296.9" r="4.6" fill="none" stroke="#151515" stroke-width="1.05"/><path d="M1536 295.5H1541.6M1529.2 298.2H1535.6" stroke="#151515" stroke-width="1.0" fill="none"/><path d="M1540.6 293.6L1543.3 295.5L1540.6 297.4Z M1534.6 296.3L1537.3 298.2L1534.6 300.1Z" fill="#151515"/></svg>
<svg class="b" style="left:1526.70px;top:309.00px" width="17.60" height="17.60" viewBox="-10 -10 20 20"><g stroke="#151515" stroke-width="0.55" fill="none"><path d="M0 0L5.0 -5.2M0 0L-3.7 -5.5M0 0L-6.1 2.8M0 0L6.5 3.8M0 0L-0.6 5.9"/></g><circle r="3.1" fill="#fff" stroke="#151515" stroke-width="2.0"/><circle cx="5.1" cy="-5.3" r="1.45" fill="#fff" stroke="#151515" stroke-width="0.95"/><circle cx="-3.8" cy="-5.6" r="1.3" fill="#151515"/><circle cx="-6.2" cy="2.85" r="1.3" fill="#151515"/><circle cx="6.6" cy="3.85" r="1.45" fill="#151515"/><circle cx="-0.6" cy="6.0" r="1.0" fill="#fff" stroke="#151515" stroke-width="0.75"/></svg>
<span class="t" style="left:1553.20px;top:360px;line-height:16px;font-size:14px;color:#151515;letter-spacing:0.032px;">Inbound</span>
<span class="t" style="left:1661.30px;top:360px;line-height:16px;font-size:14px;color:#4d4d4d;letter-spacing:0.315px;">Outbound</span>
<span class="t" style="left:1782.30px;top:360px;line-height:16px;font-size:14px;color:#4d4d4d;letter-spacing:0.082px;">Total</span>
<div class="b" style="left:1524.90px;top:388.00px;width:108.10px;height:2.90px;background:#0066cc;"></div>
<div class="b" style="left:1524.90px;top:397.90px;width:316.00px;height:1.00px;background:#c7c7c7;"></div>
<span class="t" style="left:1525.20px;top:405px;line-height:16px;font-size:14px;color:#151515;letter-spacing:-0.105px;font-weight:bold;">HTTP (requests per second):</span>
<span class="t" style="left:1564.30px;top:439px;line-height:12px;font-size:11.5px;color:#151515;letter-spacing:0.121px;font-weight:bold;">Total</span>
<span class="t" style="left:1654.70px;top:439px;line-height:12px;font-size:11.5px;color:#151515;letter-spacing:-0.462px;font-weight:bold;">% Success</span>
<span class="t" style="left:1768.10px;top:439px;line-height:12px;font-size:11.5px;color:#151515;letter-spacing:-0.257px;font-weight:bold;">% Error</span>
<span class="t" style="left:1564.60px;top:473px;line-height:15px;font-size:13.5px;color:#151515;letter-spacing:-0.158px;">1.00</span>
<span class="t" style="left:1661.30px;top:473px;line-height:15px;font-size:13.5px;color:#151515;letter-spacing:0.382px;">100.00</span>
<span class="t" style="left:1773.50px;top:473px;line-height:15px;font-size:13.5px;color:#151515;letter-spacing:0.350px;transform:scaleX(1.0832);transform-origin:0 0;">0.00</span>
<div class="b" style="left:1524.90px;top:499.00px;width:316.00px;height:1.00px;background:#c7c7c7;"></div>
<svg class="b" style="left:1509px;top:505px" width="348" height="110" viewBox="1509 505 348 110"><line x1="1531.2" x2="1531.2" y1="520" y2="602.5" stroke="#c9c9c9" stroke-width="1"/><line x1="1605.5" x2="1605.5" y1="520" y2="602.5" stroke="#c9c9c9" stroke-width="1"/><line x1="1679.9" x2="1679.9" y1="520" y2="602.5" stroke="#c9c9c9" stroke-width="1"/><line x1="1754.3" x2="1754.3" y1="520" y2="602.5" stroke="#c9c9c9" stroke-width="1"/><line x1="1828.3" x2="1828.3" y1="520" y2="602.5" stroke="#c9c9c9" stroke-width="1"/><line x1="1531.2" x2="1828.3" y1="596.2" y2="596.2" stroke="#c9c9c9" stroke-width="1"/><line x1="1525" x2="1531.2" y1="558.5" y2="558.5" stroke="#c9c9c9" stroke-width="1"/><rect x="1531.7" y="552.4" width="296.6" height="12.7" fill="#63993d"/><line x1="1605.5" x2="1605.5" y1="552.4" y2="565.1" stroke="#9cc080" stroke-width="1"/><line x1="1679.9" x2="1679.9" y1="552.4" y2="565.1" stroke="#9cc080" stroke-width="1"/><line x1="1754.3" x2="1754.3" y1="552.4" y2="565.1" stroke="#9cc080" stroke-width="1"/></svg>
<span class="t" style="left:1505.20px;top:550px;line-height:16px;font-size:14px;color:#151515;letter-spacing:0.000px;clip-path:inset(0 0 0 3.6px);">e</span>
<span class="t" style="left:1526.20px;top:606px;line-height:18px;font-size:16.5px;color:#151515;letter-spacing:0.350px;transform:scaleX(1.1224);transform-origin:0 0;">0</span>
<span class="t" style="left:1596.10px;top:606px;line-height:18px;font-size:16.5px;color:#151515;letter-spacing:0.350px;transform:scaleX(1.0265);transform-origin:0 0;">25</span>
<span class="t" style="left:1669.20px;top:606px;line-height:18px;font-size:16.5px;color:#151515;letter-spacing:0.350px;transform:scaleX(1.1121);transform-origin:0 0;">50</span>
<span class="t" style="left:1744.20px;top:606px;line-height:18px;font-size:16.5px;color:#151515;letter-spacing:0.350px;transform:scaleX(1.0265);transform-origin:0 0;">75</span>
<span class="t" style="left:1814.10px;top:606px;line-height:18px;font-size:16.5px;color:#151515;letter-spacing:-0.065px;">100</span>
<div class="b" style="left:1528.70px;top:638.60px;width:12.60px;height:12.60px;background:#63993d;"></div>
<span class="t" style="left:1548.09px;top:634px;line-height:21px;font-size:18.5px;color:#151515;letter-spacing:-0.700px;">OK</span>
<div class="b" style="left:1589.50px;top:638.60px;width:12.60px;height:12.60px;background:#4394e5;"></div>
<span class="t" style="left:1609.30px;top:634px;line-height:21px;font-size:18.5px;color:#151515;letter-spacing:-0.695px;">3xx</span>
<div class="b" style="left:1652.50px;top:638.60px;width:12.60px;height:12.60px;background:#b1380b;"></div>
<span class="t" style="left:1672.70px;top:634px;line-height:21px;font-size:18.5px;color:#151515;letter-spacing:-0.545px;">4xx</span>
<div class="b" style="left:1715.50px;top:638.60px;width:12.60px;height:12.60px;background:#731f00;"></div>
<span class="t" style="left:1736.01px;top:634px;line-height:21px;font-size:18.5px;color:#151515;letter-spacing:-0.700px;">5xx</span>
<div class="b" style="left:1778.80px;top:638.60px;width:12.60px;height:12.60px;background:#000;"></div>
<span class="t" style="left:1797.64px;top:634px;line-height:21px;font-size:18.5px;color:#151515;letter-spacing:-0.700px;">NR</span>
<span class="t" style="left:1525.20px;top:678px;line-height:16px;font-size:14px;color:#151515;letter-spacing:-0.046px;font-weight:bold;">TCP Traffic (bytes per second)</span>
<span class="t" style="left:1571.80px;top:712px;line-height:12px;font-size:11.5px;color:#151515;letter-spacing:0.121px;font-weight:bold;">Total</span>
<span class="t" style="left:1660.00px;top:712px;line-height:12px;font-size:11.5px;color:#151515;letter-spacing:-0.462px;font-weight:bold;">% Success</span>
<span class="t" style="left:1766.20px;top:712px;line-height:12px;font-size:11.5px;color:#151515;letter-spacing:-0.357px;font-weight:bold;">% Error</span>
<span class="t" style="left:1565.20px;top:746px;line-height:15px;font-size:13.5px;color:#151515;letter-spacing:-0.378px;">501.27</span>
<span class="t" style="left:1685.90px;top:746px;line-height:15px;font-size:13.5px;color:#151515;letter-spacing:0.000px;">-</span>
<span class="t" style="left:1783.60px;top:746px;line-height:15px;font-size:13.5px;color:#151515;letter-spacing:0.000px;">-</span>
<div class="b" style="left:1524.90px;top:771.80px;width:316.00px;height:1.00px;background:#c7c7c7;"></div>
<svg class="b" style="left:381.00px;top:289.30px" width="20.00" height="20.00" viewBox="-10 -10 20 20"><g stroke="#151515" stroke-width="0.55" fill="none"><path d="M0 0L5.0 -5.2M0 0L-3.7 -5.5M0 0L-6.1 2.8M0 0L6.5 3.8M0 0L-0.6 5.9"/></g><circle r="3.1" fill="#fff" stroke="#151515" stroke-width="2.0"/><circle cx="5.1" cy="-5.3" r="1.45" fill="#fff" stroke="#151515" stroke-width="0.95"/><circle cx="-3.8" cy="-5.6" r="1.3" fill="#151515"/><circle cx="-6.2" cy="2.85" r="1.3" fill="#151515"/><circle cx="6.6" cy="3.85" r="1.45" fill="#151515"/><circle cx="-0.6" cy="6.0" r="1.0" fill="#fff" stroke="#151515" stroke-width="0.75"/></svg>
</div></body></html>
